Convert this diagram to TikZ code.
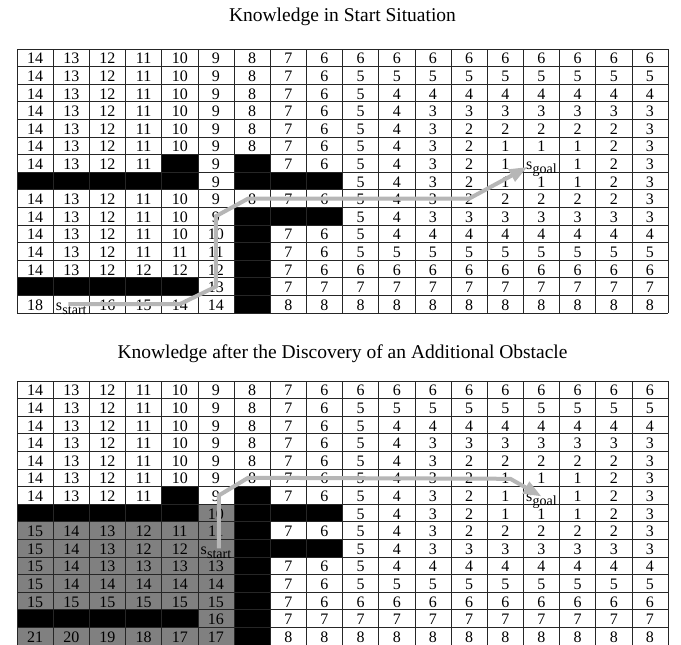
\documentclass[tikz,border=0pt]{standalone}
\usepackage{fontspec}
\setmainfont{Liberation Serif}
\usetikzlibrary{arrows.meta}
\definecolor{pathgray}{RGB}{182,182,182}
\definecolor{cellgray}{RGB}{128,128,128}
\def\cw{36.17}
\def\rh{17.6}
\def\gl{17}
\newcommand\sst{s\kern0.3pt\raisebox{-4.5pt}{\fontsize{14}{14}\selectfont start}}
\newcommand\sgl{s\kern0.3pt\raisebox{-4.5pt}{\fontsize{14}{14}\selectfont goal}}
% #1 top, #2 c1, #3 c2, #4 r1, #5 r2, #6 colour
\newcommand\cellfill[6]{\fill[#6] ({\gl+#2*\cw},{#1+#4*\rh}) rectangle ({\gl+(#3+1)*\cw},{#1+(#5+1)*\rh});}
\newcommand\gridlines[1]{%
  \foreach \i in {0,...,18} \draw[gridline] ({\gl+\i*\cw},#1) -- ({\gl+\i*\cw},{#1+15*\rh});
  \foreach \j in {0,...,15} \draw[gridline] (\gl,{#1+\j*\rh}) -- ({\gl+18*\cw},{#1+\j*\rh});}
% #1 top, #2 prefix, #3 rows
\newcommand\gridtext[3]{%
  \foreach \rowlist [count=\r from 0] in {#3} {
    \foreach \v [count=\cc from 0] in \rowlist {
      \coordinate (#2c-\r-\cc) at ({\gl+(\cc+0.5)*\cw},{#1+(\r+0.5)*\rh});
      \node[cellnum] (#2n-\r-\cc) at ({\gl+(\cc+0.5)*\cw},{#1+(\r+0.5)*\rh+6}) {\v};
    }
  }}
\begin{document}
\begin{tikzpicture}[x=1pt,y=-1pt,
  cellnum/.style={anchor=base,inner sep=0pt,font=\fontsize{16}{16}\selectfont},
  titletext/.style={anchor=base,inner sep=0pt,font=\fontsize{19.5}{19.5}\selectfont},
  gridline/.style={draw=black!85,line width=0.7pt},
  pathline/.style={draw=pathgray,line width=4pt,line join=miter,
    -{Triangle[length=18pt,width=13pt]}}]
\useasboundingbox (0,0) rectangle (681,645);
\fill[white] (0,0) rectangle (681,645);
% ---------- top grid ----------
\def\T{49}
\cellfill{\T}{4}{4}{6}{6}{black}
\cellfill{\T}{6}{6}{6}{6}{black}
\cellfill{\T}{0}{4}{7}{7}{black}
\cellfill{\T}{6}{8}{7}{7}{black}
\cellfill{\T}{6}{8}{9}{9}{black}
\cellfill{\T}{6}{6}{10}{14}{black}
\cellfill{\T}{0}{4}{13}{13}{black}
\gridlines{\T}
\gridtext{\T}{a}{%
{14,13,12,11,10,9,8,7,6,6,6,6,6,6,6,6,6,6},
{14,13,12,11,10,9,8,7,6,5,5,5,5,5,5,5,5,5},
{14,13,12,11,10,9,8,7,6,5,4,4,4,4,4,4,4,4},
{14,13,12,11,10,9,8,7,6,5,4,3,3,3,3,3,3,3},
{14,13,12,11,10,9,8,7,6,5,4,3,2,2,2,2,2,3},
{14,13,12,11,10,9,8,7,6,5,4,3,2,1,1,1,2,3},
{14,13,12,11,,9,,7,6,5,4,3,2,1,\sgl,1,2,3},
{,,,,,9,,,,5,4,3,2,1,1,1,2,3},
{14,13,12,11,10,9,8,7,6,5,4,3,2,2,2,2,2,3},
{14,13,12,11,10,9,,,,5,4,3,3,3,3,3,3,3},
{14,13,12,11,10,10,,7,6,5,4,4,4,4,4,4,4,4},
{14,13,12,11,11,11,,7,6,5,5,5,5,5,5,5,5,5},
{14,13,12,12,12,12,,7,6,6,6,6,6,6,6,6,6,6},
{,,,,,13,,7,7,7,7,7,7,7,7,7,7,7},
{18,\sst,16,15,14,14,,8,8,8,8,8,8,8,8,8,8,8}}
\node[titletext] (title1) at (342.5,21) {Knowledge in Start Situation};
\coordinate (goal1) at ([xshift=-14pt,yshift=-3.6pt]ac-6-14);
\draw[pathline] ([xshift=-3pt]ac-14-1) -- (ac-14-4) -- (ac-13-5) -- (ac-9-5)
  -- ([xshift=-4pt]ac-8-6) -- (ac-8-12) -- (goal1);
% ---------- bottom grid ----------
\def\T{381}
\cellfill{\T}{0}{5}{7}{14}{cellgray}
\cellfill{\T}{4}{4}{6}{6}{black}
\cellfill{\T}{6}{6}{6}{6}{black}
\cellfill{\T}{0}{4}{7}{7}{black}
\cellfill{\T}{6}{8}{7}{7}{black}
\cellfill{\T}{6}{6}{8}{8}{black}
\cellfill{\T}{6}{8}{9}{9}{black}
\cellfill{\T}{6}{6}{10}{14}{black}
\cellfill{\T}{0}{4}{13}{13}{black}
\gridlines{\T}
\gridtext{\T}{b}{%
{14,13,12,11,10,9,8,7,6,6,6,6,6,6,6,6,6,6},
{14,13,12,11,10,9,8,7,6,5,5,5,5,5,5,5,5,5},
{14,13,12,11,10,9,8,7,6,5,4,4,4,4,4,4,4,4},
{14,13,12,11,10,9,8,7,6,5,4,3,3,3,3,3,3,3},
{14,13,12,11,10,9,8,7,6,5,4,3,2,2,2,2,2,3},
{14,13,12,11,10,9,8,7,6,5,4,3,2,1,1,1,2,3},
{14,13,12,11,,9,,7,6,5,4,3,2,1,\sgl,1,2,3},
{,,,,,10,,,,5,4,3,2,1,1,1,2,3},
{15,14,13,12,11,11,,7,6,5,4,3,2,2,2,2,2,3},
{15,14,13,12,12,\sst,,,,5,4,3,3,3,3,3,3,3},
{15,14,13,13,13,13,,7,6,5,4,4,4,4,4,4,4,4},
{15,14,14,14,14,14,,7,6,5,5,5,5,5,5,5,5,5},
{15,15,15,15,15,15,,7,6,6,6,6,6,6,6,6,6,6},
{,,,,,16,,7,7,7,7,7,7,7,7,7,7,7},
{21,20,19,18,17,17,,8,8,8,8,8,8,8,8,8,8,8}}
\node[titletext] (title2) at (342.5,358) {Knowledge after the Discovery of an Additional Obstacle};
\coordinate (goal2) at ([xshift=0pt,yshift=-1pt]bc-6-14);
\draw[pathline] ([xshift=3pt,yshift=-0.2pt]bc-9-5) -- ([xshift=3pt]bc-6-5) -- ([xshift=-4pt]bc-5-6)
  -- ([xshift=5pt,yshift=-1pt]bc-5-13) -- (goal2);
\end{tikzpicture}
\end{document}
